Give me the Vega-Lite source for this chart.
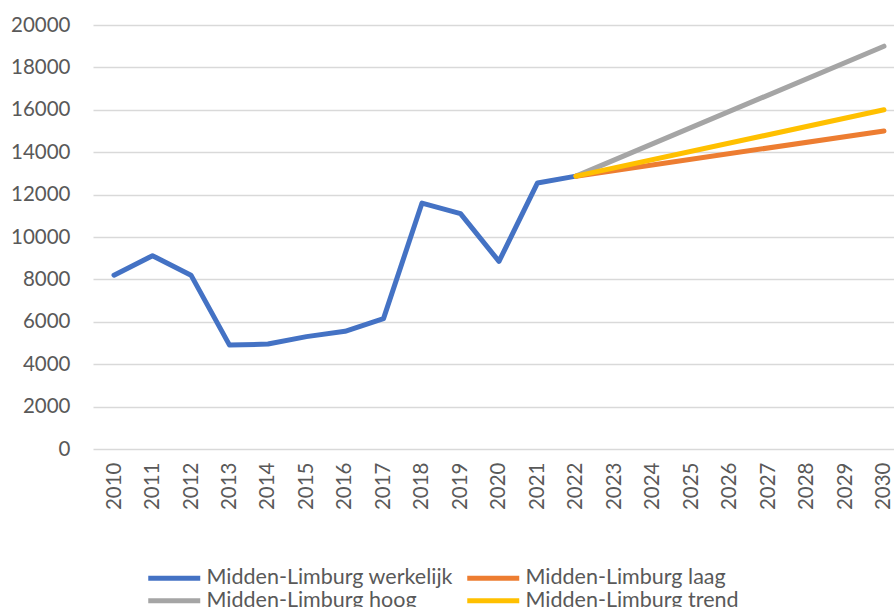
{
  "$schema": "https://vega.github.io/schema/vega-lite/v6.json",
  "width": 801,
  "height": 424,
  "autosize": {"type": "none"},
  "padding": {"left": 93, "top": 25, "right": 0, "bottom": 158},
  "config": {
    "view": {"stroke": null},
    "font": "Lato",
    "axis": {"labelFont": "Lato", "labelColor": "#595959", "labelFontSize": 20.5, "titleFont": "Lato"},
    "legend": {"labelFont": "Lato", "labelColor": "#595959", "labelFontSize": 21.5}
  },
  "data": {
    "values": [
      {"jaar": 2010, "waarde": 8200, "reeks": "Midden-Limburg werkelijk"},
      {"jaar": 2011, "waarde": 9120, "reeks": "Midden-Limburg werkelijk"},
      {"jaar": 2012, "waarde": 8200, "reeks": "Midden-Limburg werkelijk"},
      {"jaar": 2013, "waarde": 4900, "reeks": "Midden-Limburg werkelijk"},
      {"jaar": 2014, "waarde": 4950, "reeks": "Midden-Limburg werkelijk"},
      {"jaar": 2015, "waarde": 5300, "reeks": "Midden-Limburg werkelijk"},
      {"jaar": 2016, "waarde": 5550, "reeks": "Midden-Limburg werkelijk"},
      {"jaar": 2017, "waarde": 6150, "reeks": "Midden-Limburg werkelijk"},
      {"jaar": 2018, "waarde": 11600, "reeks": "Midden-Limburg werkelijk"},
      {"jaar": 2019, "waarde": 11100, "reeks": "Midden-Limburg werkelijk"},
      {"jaar": 2020, "waarde": 8850, "reeks": "Midden-Limburg werkelijk"},
      {"jaar": 2021, "waarde": 12550, "reeks": "Midden-Limburg werkelijk"},
      {"jaar": 2022, "waarde": 12870, "reeks": "Midden-Limburg werkelijk"},
      {"jaar": 2022, "waarde": 12870, "reeks": "Midden-Limburg hoog"},
      {"jaar": 2030, "waarde": 19000, "reeks": "Midden-Limburg hoog"},
      {"jaar": 2022, "waarde": 12870, "reeks": "Midden-Limburg laag"},
      {"jaar": 2030, "waarde": 15000, "reeks": "Midden-Limburg laag"},
      {"jaar": 2022, "waarde": 12870, "reeks": "Midden-Limburg trend"},
      {"jaar": 2030, "waarde": 16000, "reeks": "Midden-Limburg trend"}
    ]
  },
  "mark": {"type": "line", "strokeWidth": 5, "strokeCap": "round", "strokeJoin": "round"},
  "encoding": {
    "x": {
      "field": "jaar",
      "type": "quantitative",
      "scale": {"domain": [2009.4545, 2030.26], "nice": false, "zero": false},
      "axis": {
        "title": null,
        "values": [2010, 2011, 2012, 2013, 2014, 2015, 2016, 2017, 2018, 2019, 2020, 2021, 2022, 2023, 2024, 2025, 2026, 2027, 2028, 2029, 2030],
        "format": "d",
        "labelAngle": -90,
        "labelPadding": 13,
        "ticks": false,
        "domain": false,
        "grid": false,
        "labelOverlap": false,
        "labelFlush": false
      }
    },
    "y": {
      "field": "waarde",
      "type": "quantitative",
      "scale": {"domain": [0, 20000], "nice": false},
      "axis": {
        "title": null,
        "values": [0, 2000, 4000, 6000, 8000, 10000, 12000, 14000, 16000, 18000, 20000],
        "format": "d",
        "ticks": false,
        "domain": false,
        "grid": true,
        "gridColor": "#d9d9d9",
        "gridWidth": 1.5,
        "labelPadding": 23,
        "labelFlush": false
      }
    },
    "color": {
      "field": "reeks",
      "type": "nominal",
      "scale": {
        "domain": ["Midden-Limburg werkelijk", "Midden-Limburg laag", "Midden-Limburg hoog", "Midden-Limburg trend"],
        "range": ["#4472C4", "#ED7D31", "#A5A5A5", "#FFC000"]
      },
      "legend": {
        "title": null,
        "orient": "none",
        "legendX": 48,
        "legendY": 542,
        "direction": "horizontal",
        "columns": 2,
        "symbolType": "M-0.583,0H8.083",
        "symbolSize": 144,
        "symbolStrokeWidth": 5,
        "labelOffset": 44,
        "columnPadding": 4,
        "rowPadding": 0,
        "labelLimit": 400
      }
    }
  }
}
